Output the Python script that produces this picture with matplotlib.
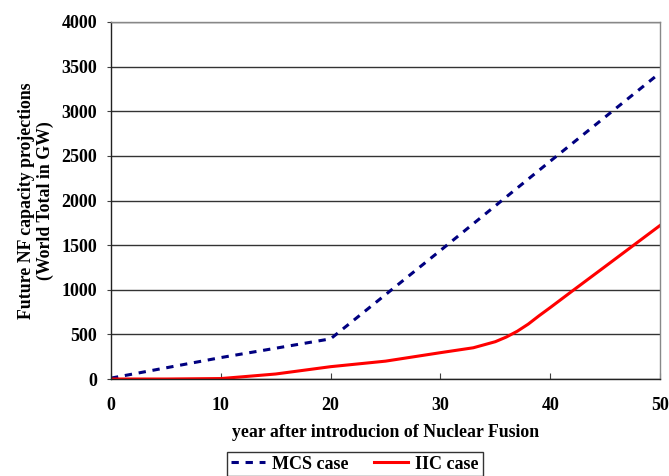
import matplotlib
matplotlib.use("Agg")
import matplotlib.pyplot as plt

years_mcs = [0, 10, 20, 30, 40, 50]
mcs = [10, 240, 450, 1440, 2440, 3430]

years_iic = [0, 5, 10, 12, 15, 20, 25, 30, 33, 35, 36, 37, 38, 39, 40, 42, 45, 50]
iic = [0, 0, 5, 25, 56, 138, 200, 295, 350, 418, 470, 535, 615, 710, 800, 985, 1260, 1720]

xticks = [0, 10, 20, 30, 40, 50]
yticks = [0, 500, 1000, 1500, 2000, 2500, 3000, 3500, 4000]

plt.rcParams['font.family'] = ['Liberation Serif', 'DejaVu Serif']
plt.rcParams['font.weight'] = 'bold'

fig = plt.figure(figsize=(6.69, 4.76), dpi=100)
ax = fig.add_axes([111/669, 1 - 379/476, (660-111)/669, (379-22)/476])

ax.plot(years_mcs, mcs, color='#000080', lw=2.2, ls=(0, (2.4, 2.2)), label='MCS case')
ax.plot(years_iic, iic, color='#ff0000', lw=2.2, label='IIC case')

ax.set_xlim(0, 50)
ax.set_ylim(0, 4000)
ax.set_xticks(xticks)
ax.set_yticks(yticks)
ax.set_xticklabels([str(v) for v in xticks], fontsize=13, fontweight='bold')
ax.set_yticklabels([str(v) for v in yticks], fontsize=13, fontweight='bold')
ax.tick_params(axis='x', direction='in', length=4, pad=13, color='#404040')
ax.tick_params(axis='y', direction='out', length=3, pad=7, color='#404040')

ax.yaxis.grid(True, color='#333333', lw=1)
ax.set_axisbelow(True)
for s in ['top', 'right']:
    ax.spines[s].set_color('#888888')
    ax.spines[s].set_linewidth(1)
for s in ['left', 'bottom']:
    ax.spines[s].set_color('#222222')
    ax.spines[s].set_linewidth(1)

ax.set_xlabel('year after introducion of Nuclear Fusion', fontsize=12.8, fontweight='bold', labelpad=7)
ax.set_ylabel('Future NF capacity projections\n(World Total in GW)', fontsize=12.8, fontweight='bold',
              labelpad=5, linespacing=1.15)

leg = fig.legend(loc='upper left', bbox_to_anchor=(227/669, 1 - 452/476), ncol=2,
                 frameon=True, fancybox=False, edgecolor='black',
                 handlelength=1.9, columnspacing=1.4, borderpad=0.2, handletextpad=0.4,
                 borderaxespad=0.0,
                 prop={'weight': 'bold', 'size': 13})
leg.get_frame().set_linewidth(1)

fig.savefig('out.png', dpi=100)
